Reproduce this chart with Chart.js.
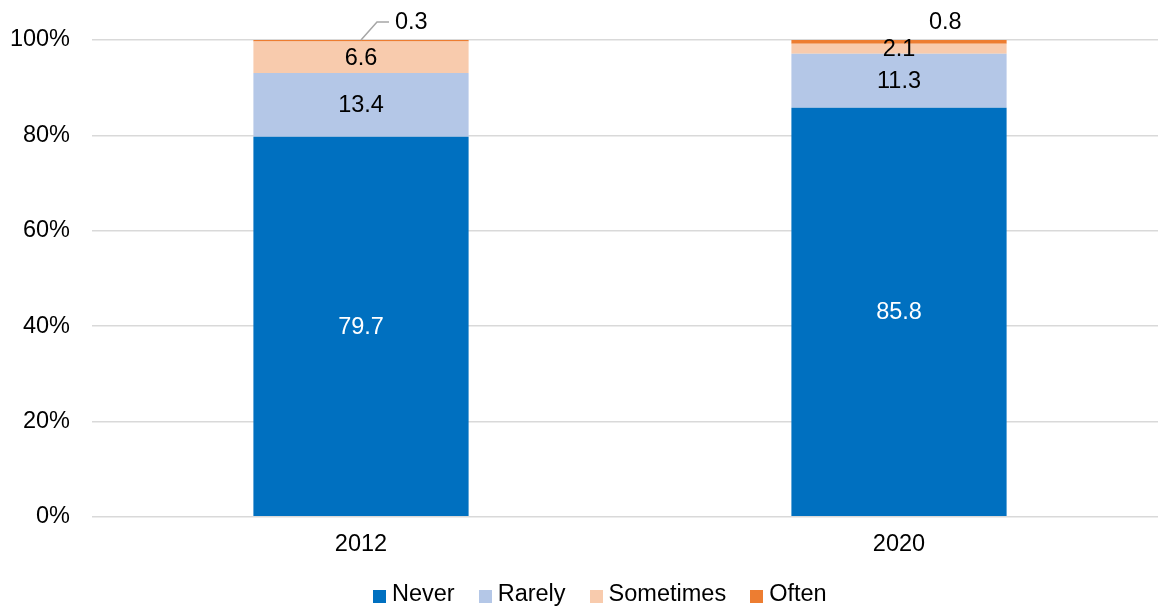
<!DOCTYPE html>
<html>
<head>
<meta charset="utf-8">
<script src="https://cdn.jsdelivr.net/npm/chart.js@4/dist/chart.umd.min.js"></script>
<style>
  html, body { margin: 0; padding: 0; background: #fff; }
  #wrap { position: relative; width: 1158px; height: 610px; overflow: hidden; }
  #holder { position: absolute; left: 0; top: 0; width: 1168px; height: 610px; }
  #legend {
    position: absolute; left: 373px; top: 582px;
    display: flex; align-items: baseline;
    font-family: "Liberation Sans", Arial, sans-serif; font-size: 23.5px; line-height: 22px; color: #000;
  }
  #legend .item { display: flex; align-items: baseline; margin-right: 24px; white-space: nowrap; }
  #legend .box { display: inline-block; width: 13px; height: 13px; margin-right: 6px; position: relative; top: 2px; }
</style>
</head>
<body>
<div id="wrap">
  <div id="holder"><canvas id="chart" width="1168" height="610"></canvas></div>
  <div id="legend"></div>
</div>
<script>
// Survey years
const years = ['2012', '2020'];

// Share of respondents (%) per answer
const never     = [79.7, 85.8];
const rarely    = [13.4, 11.3];
const sometimes = [6.6, 2.1];
const often     = [0.3, 0.8];

const seriesNames = ['Never', 'Rarely', 'Sometimes', 'Often'];
const seriesColors = ['#0070C0', '#B4C7E7', '#F8CBAD', '#ED7D31'];
const labelColors = ['#FFFFFF', '#000000', '#000000', '#000000'];

// Y axis tick labels
const yTicks = [0, 20, 40, 60, 80, 100];

const FONT = '"Liberation Sans", Arial, sans-serif';
const FONT_SIZE = 23.5;

// Draws the value of each segment; the thin top segment gets its label above the bar
const segmentLabels = {
  id: 'segmentLabels',
  afterDatasetsDraw(chart) {
    const ctx = chart.ctx;
    ctx.save();
    ctx.font = FONT_SIZE + 'px ' + FONT;
    chart.data.datasets.forEach((ds, di) => {
      const meta = chart.getDatasetMeta(di);
      meta.data.forEach((bar, i) => {
        const v = ds.data[i];
        const txt = v.toFixed(1);
        if (di < 3) {
          ctx.fillStyle = labelColors[di];
          ctx.textAlign = 'center';
          ctx.textBaseline = 'middle';
          ctx.fillText(txt, bar.x, (bar.y + bar.base) / 2 + 1);
        } else {
          const top = bar.y;
          ctx.fillStyle = '#000';
          ctx.textAlign = 'left';
          ctx.textBaseline = 'middle';
          if (i === 0) {
            ctx.strokeStyle = '#A6A6A6';
            ctx.lineWidth = 1.5;
            ctx.beginPath();
            ctx.moveTo(bar.x, top);
            ctx.lineTo(bar.x + 16, top - 18);
            ctx.lineTo(bar.x + 28, top - 18);
            ctx.stroke();
            ctx.fillText(txt, bar.x + 34, top - 17);
          } else {
            ctx.fillText(txt, bar.x + 30, top - 17);
          }
        }
      });
    });
    ctx.restore();
  }
};

const seriesData = [never, rarely, sometimes, often];

new Chart(document.getElementById('chart'), {
  type: 'bar',
  data: {
    labels: years,
    datasets: seriesNames.map((name, k) => ({
      label: name,
      data: seriesData[k],
      backgroundColor: seriesColors[k],
      borderWidth: 0,
      categoryPercentage: 1.0,
      barPercentage: 0.4
    }))
  },
  options: {
    responsive: false,
    animation: false,
    layout: { padding: { top: 40, bottom: 45, left: 0, right: 0 } },
    plugins: {
      legend: { display: false },
      tooltip: { enabled: false }
    },
    scales: {
      x: {
        stacked: true,
        grid: { display: false },
        border: { display: false },
        ticks: { font: { family: FONT, size: FONT_SIZE }, color: '#000', padding: 6 }
      },
      y: {
        stacked: true,
        min: 0,
        max: 100,
        afterBuildTicks(scale) { scale.ticks = yTicks.map(v => ({ value: v })); },
        afterFit(scale) { scale.width = 92; },
        grid: { color: '#D9D9D9', lineWidth: 1.5, drawTicks: false },
        border: { display: false },
        ticks: {
          font: { family: FONT, size: FONT_SIZE },
          color: '#000',
          padding: 22,
          callback: v => v + '%'
        }
      }
    }
  },
  plugins: [segmentLabels]
});

// Legend row
const legend = document.getElementById('legend');
seriesNames.forEach((name, k) => {
  const item = document.createElement('span');
  item.className = 'item';
  const box = document.createElement('span');
  box.className = 'box';
  box.style.background = seriesColors[k];
  item.appendChild(box);
  item.appendChild(document.createTextNode(name));
  legend.appendChild(item);
});
</script>
</body>
</html>
